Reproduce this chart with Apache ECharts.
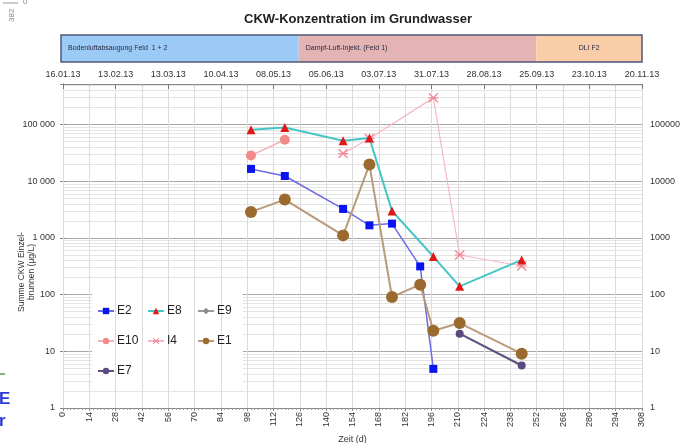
<!DOCTYPE html>
<html>
<head>
<meta charset="utf-8">
<script src="https://cdn.jsdelivr.net/npm/echarts@6/dist/echarts.min.js"></script>
<style>
html,body{margin:0;padding:0;background:#fff;}
#c{width:693px;height:443px;}
</style>
</head>
<body>
<div id="c"></div>
<script>
// ---- data ----
const dateLabels = ['16.01.13','13.02.13','13.03.13','10.04.13','08.05.13','05.06.13','03.07.13','31.07.13','28.08.13','25.09.13','23.10.13','20.11.13'];
const phaseNames = ['Bodenluftabsaugung Feld  1 + 2', 'Dampf-Luft-Injekt. (Feld 1)', 'DLI F2'];
const phaseStart = [0, 126, 252];
const phaseEnd = [126, 252, 308];
const yAxisTitle = 'Summe CKW Einzel-\nbrunnen (µg/L)';

const e2Days = [100, 118, 149, 163, 175, 190, 197];
const e2Vals = [16500, 12400, 3250, 1670, 1790, 315, 4.9];
const e8Days = [100, 118, 149, 163, 175, 197, 211, 244];
const e8Vals = [81000, 89000, 52000, 58000, 3000, 470, 140, 410];
const e9Days = [];
const e9Vals = [];
const e10Days = [100, 118];
const e10Vals = [28500, 54000];
const i4Days = [149, 163, 197, 211, 244];
const i4Vals = [30800, 57000, 296000, 500, 320];
const e1Days = [100, 118, 149, 163, 175, 190, 197, 211, 244];
const e1Vals = [2880, 4750, 1110, 19700, 91, 150, 23, 31.5, 9.1];
const e7Days = [211, 244];
const e7Vals = [20.5, 5.6];

const FONT = "'Liberation Sans', Arial, sans-serif";
const zip = (a, b) => a.map((d, i) => [d, b[i]]);

const minorVals = [];
for (let k = 0; k <= 5; k++) {
  for (let m = 2; m <= 9; m++) {
    const v = m * Math.pow(10, k);
    if (v < 520000) minorVals.push(v);
  }
}

const isPow10 = v => { const l = Math.log10(v); return Math.abs(l - Math.round(l)) < 1e-6; };
const spaced = v => String(Math.round(v)).replace(/\B(?=(\d{3})+(?!\d))/g, ' ');

const chart = echarts.init(document.getElementById('c'), null, {renderer: 'canvas'});

function mk(name, days, vals, o) {
  return Object.assign({
    name: name, type: 'line', data: zip(days, vals),
    xAxisIndex: 0, yAxisIndex: 0, z: 2,
    symbolSize: 8, showAllSymbol: true
  }, o);
}

const xMark = 'path://M1,0 L5,4 L9,0 L10,1 L6,5 L10,9 L9,10 L5,6 L1,10 L0,9 L4,5 L0,1 Z M0,4.4 L10,4.4 L10,5.6 L0,5.6 Z';
const legendText = {fontSize: 12, color: '#222', padding: [0, 0, 0, -2]};

const option = {
  backgroundColor: '#fff',
  animation: false,
  textStyle: {fontFamily: FONT},
  title: {
    text: 'CKW-Konzentration im Grundwasser',
    left: 353, top: 8, textAlign: 'center',
    textStyle: {fontSize: 13, fontWeight: 'bold', color: '#222', fontFamily: FONT}
  },
  grid: [
    {left: 63, right: 51, top: 84, bottom: 35, show: false, outerBoundsMode: 'none', containLabel: false},
    {left: 61, right: 51, top: 35, height: 27, show: true, z: 3, outerBoundsMode: 'none',
     borderColor: '#4d5a78', borderWidth: 1.5, backgroundColor: 'rgba(0,0,0,0)'}
  ],
  xAxis: [
    {
      type: 'value', gridIndex: 0, min: 0, max: 308, interval: 14, position: 'bottom', z: 1,
      name: 'Zeit (d)', nameLocation: 'middle', nameGap: 27,
      nameTextStyle: {fontSize: 9, color: '#333'},
      axisLine: {show: true, lineStyle: {color: '#888', width: 1}},
      axisTick: {show: true, length: 3, lineStyle: {color: '#888'}},
      minorTick: {show: true, splitNumber: 7, length: 2, lineStyle: {color: '#999'}},
      axisLabel: {rotate: 90, fontSize: 9, color: '#333', margin: 4},
      splitLine: {show: true, lineStyle: {color: '#dcdcdc', width: 1}}
    },
    {
      type: 'value', gridIndex: 0, min: 0, max: 308, interval: 28, position: 'top', z: 1,
      axisLine: {show: true, lineStyle: {color: '#888', width: 1}},
      axisTick: {show: true, inside: true, length: 5, lineStyle: {color: '#777'}},
      minorTick: {show: true, splitNumber: 2, length: 2, lineStyle: {color: '#aaa'}},
      axisLabel: {fontSize: 9, color: '#333', margin: 5,
        formatter: v => dateLabels[Math.round(v / 28)] || ''},
      splitLine: {show: false}
    },
    {
      type: 'value', gridIndex: 1, min: 0, max: 308, show: false
    }
  ],
  yAxis: [
    {
      type: 'log', gridIndex: 0, min: 1, max: 520000, logBase: 10, z: 0,
      axisLine: {show: true, lineStyle: {color: '#888'}},
      axisTick: {show: true, length: 3, lineStyle: {color: '#888'}},
      axisLabel: {fontSize: 9, color: '#333', margin: 8,
        formatter: v => isPow10(v) ? spaced(v) : ''},
      splitLine: {show: true, lineStyle: {color: '#a8a8a8', width: 1}}
    },
    {
      type: 'log', gridIndex: 0, min: 1, max: 520000, logBase: 10, position: 'right', z: 0,
      axisLine: {show: true, lineStyle: {color: '#888'}},
      axisTick: {show: true, length: 3, lineStyle: {color: '#888'}},
      axisLabel: {fontSize: 9, color: '#333', margin: 8,
        formatter: v => isPow10(v) ? String(Math.round(v)) : ''},
      splitLine: {show: false}
    },
    {
      type: 'value', gridIndex: 1, min: 0, max: 1, show: false
    }
  ],
  legend: [
    {data: ['E2', 'E10', 'E7'], left: 92, top: 300, orient: 'vertical', itemGap: 18,
     itemWidth: 16, itemHeight: 8, z: 5, textStyle: legendText},
    {data: ['E8', 'I4'], left: 142, top: 300, orient: 'vertical', itemGap: 18,
     itemWidth: 16, itemHeight: 8, z: 5, textStyle: legendText},
    {data: ['E9', 'E1'], left: 192, top: 300, orient: 'vertical', itemGap: 18,
     itemWidth: 16, itemHeight: 8, z: 5, textStyle: legendText}
  ],
  graphic: [
    {type: 'rect', z: 1, zlevel: 0, shape: {x: 92, y: 293, width: 151, height: 95},
     style: {fill: '#ffffff'}, silent: true},
    {type: 'text', z: 5, x: 27, y: 272, rotation: Math.PI / 2,
     style: {text: yAxisTitle, fontSize: 8.5, lineHeight: 10, fill: '#333', fontFamily: FONT,
             align: 'center', verticalAlign: 'middle'}},
    {type: 'line', z: 5, shape: {x1: 3, y1: 3, x2: 18, y2: 3}, style: {stroke: '#999', lineWidth: 1}},
    {type: 'text', z: 5, left: 23, top: -2, style: {text: '0', fontSize: 8, fill: '#888', fontFamily: FONT}},
    {type: 'text', z: 5, x: 8, y: 22, rotation: Math.PI / 2,
     style: {text: '382', fontSize: 8, fill: '#888', fontFamily: FONT}},
    {type: 'line', z: 5, shape: {x1: 0, y1: 374, x2: 5, y2: 374}, style: {stroke: '#55a040', lineWidth: 1.5}},
    {type: 'text', z: 5, left: -1, top: 391, style: {text: 'E', fontSize: 17, fontWeight: 'bold', fill: '#2a3ad8', fontFamily: FONT}},
    {type: 'text', z: 5, left: -1, top: 413, style: {text: 'r', fontSize: 17, fontWeight: 'bold', fill: '#2a3ad8', fontFamily: FONT}}
  ],
  series: [
    {
      name: 'minorGrid', type: 'line', data: [], xAxisIndex: 0, yAxisIndex: 0, silent: true,
      markLine: {
        silent: true, z: 0.5, symbol: ['none', 'none'], animation: false,
        label: {show: false},
        lineStyle: {color: '#e4e4e4', type: 'solid', width: 1},
        emphasis: {disabled: true},
        data: minorVals.map(v => ({yAxis: v}))
      }
    },
    {
      name: 'phases', type: 'line', data: [[0, 0]], xAxisIndex: 2, yAxisIndex: 2, silent: true,
      symbol: 'none', lineStyle: {opacity: 0},
      markArea: {
        silent: true,
        data: phaseNames.map((n, i) => [
          {xAxis: phaseStart[i], name: n,
           itemStyle: {color: ['#9ccaf6', '#e4b3b3', '#f9cda8'][i]},
           label: {show: true, position: i === 2 ? 'inside' : 'insideLeft',
                   distance: 0, padding: [0, 0, 0, i === 2 ? 0 : 7],
                   fontSize: 7, color: '#2a2a40', fontFamily: FONT}},
          {xAxis: phaseEnd[i]}
        ])
      }
    },
    mk('E2', e2Days, e2Vals, {symbol: 'rect', symbolSize: 8,
      itemStyle: {color: '#0a14f0'}, lineStyle: {color: '#6b6be6', width: 1.5}}),
    mk('I4', i4Days, i4Vals, {symbol: xMark, symbolSize: 10, z: 1.9,
      itemStyle: {color: '#f08a9a'}, lineStyle: {color: '#f7b7c4', width: 1.2}}),
    mk('E8', e8Days, e8Vals, {symbol: 'triangle', symbolSize: 9,
      itemStyle: {color: '#e01818'}, lineStyle: {color: '#45c6c4', width: 2}}),
    mk('E9', e9Days, e9Vals, {symbol: 'diamond', symbolSize: 7,
      itemStyle: {color: '#8a8a8a'}, lineStyle: {color: '#9a9a9a', width: 1.5}}),
    mk('E10', e10Days, e10Vals, {symbol: 'circle', symbolSize: 10,
      itemStyle: {color: '#f28a8a'}, lineStyle: {color: '#f2b6b6', width: 1.5}}),
    mk('E1', e1Days, e1Vals, {symbol: 'circle', symbolSize: 12,
      itemStyle: {color: '#9b6a2e'}, lineStyle: {color: '#b99a79', width: 2}}),
    mk('E7', e7Days, e7Vals, {symbol: 'circle', symbolSize: 8,
      itemStyle: {color: '#5a4a7e'}, lineStyle: {color: '#5e5280', width: 2.2}})
  ]
};
chart.setOption(option);
</script>
</body>
</html>
